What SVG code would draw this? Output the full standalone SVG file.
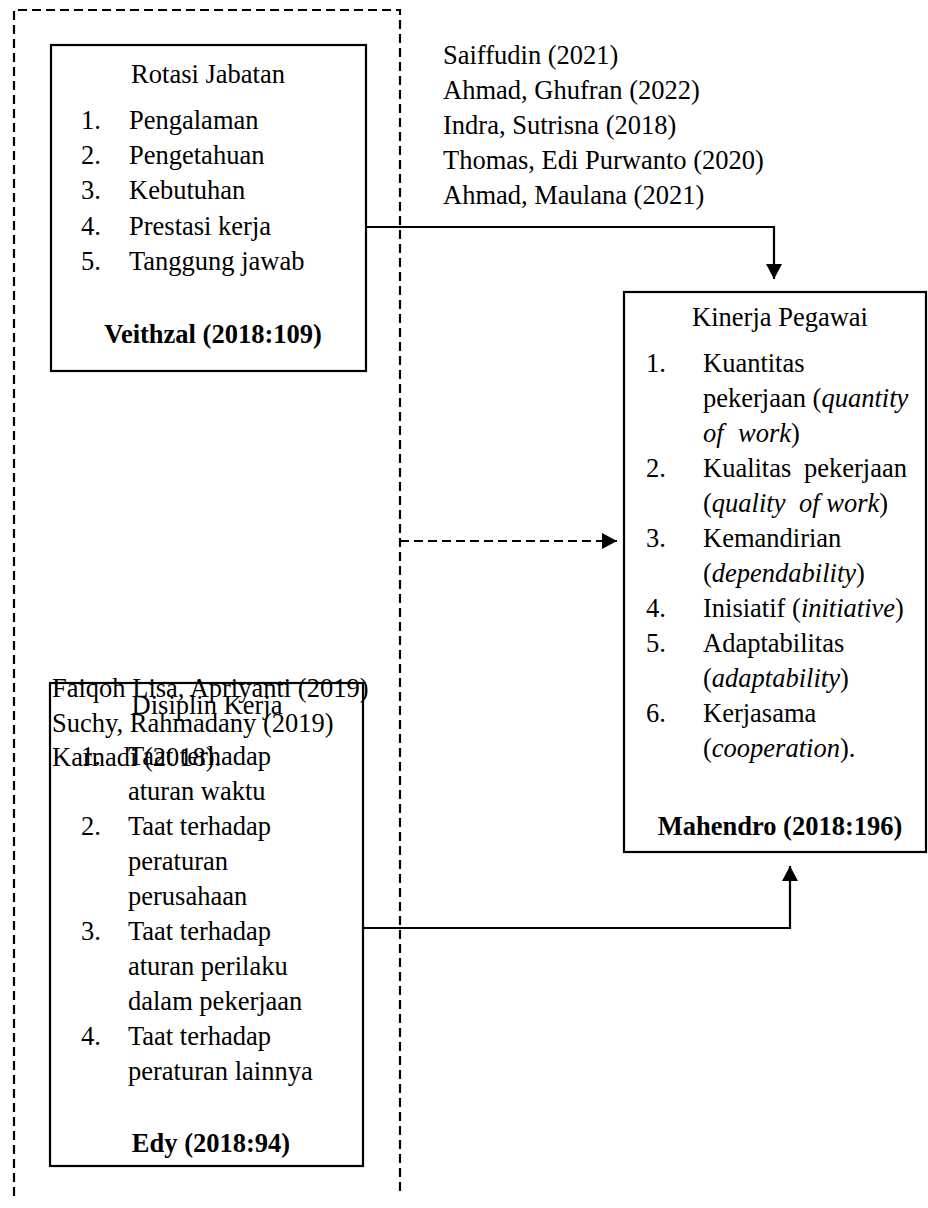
<svg xmlns="http://www.w3.org/2000/svg" width="928" height="1208" viewBox="0 0 928 1208">
<defs>
<marker id="ah" markerUnits="userSpaceOnUse" markerWidth="16" markerHeight="16" refX="15" refY="8" orient="auto">
<path d="M0,0 L15,8 L0,16 Z" fill="#000"/>
</marker>
<style>
text{font-family:"Liberation Serif","Times New Roman","DejaVu Serif",serif;font-size:26.5px;fill:#000}
.b{font-weight:bold}
.c{text-anchor:middle}
.i{font-style:italic}
.box{fill:#fff;stroke:#000;stroke-width:2.2}
.ln{fill:none;stroke:#000;stroke-width:2.2}
.dash{fill:none;stroke:#000;stroke-width:2.2;stroke-dasharray:9 5}
</style>
</defs>
<rect width="928" height="1208" fill="#fff"/>
<g id="frame">
<path class="dash" d="M14,1196 V10 H400 V1196"/>
</g>
<g id="rotasi">
<rect class="box" x="51" y="45" width="315" height="326"/>
<text class="c" x="208" y="83">Rotasi Jabatan</text>
<text x="81" y="129">1.</text><text x="129" y="129">Pengalaman</text>
<text x="81" y="164">2.</text><text x="129" y="164">Pengetahuan</text>
<text x="81" y="199">3.</text><text x="129" y="199">Kebutuhan</text>
<text x="81" y="235">4.</text><text x="129" y="235">Prestasi kerja</text>
<text x="81" y="270">5.</text><text x="129" y="270">Tanggung jawab</text>
<text class="b c" x="213" y="343">Veithzal (2018:109)</text>
</g>
<g id="refs1">
<text x="443" y="64">Saiffudin (2021)</text>
<text x="443" y="99">Ahmad, Ghufran (2022)</text>
<text x="443" y="134">Indra, Sutrisna (2018)</text>
<text x="443" y="169">Thomas, Edi Purwanto (2020)</text>
<text x="443" y="204">Ahmad, Maulana (2021)</text>
</g>
<g id="kinerja">
<rect class="box" x="624" y="292" width="302" height="560"/>
<text class="c" x="780" y="326">Kinerja Pegawai</text>
<text x="646" y="372">1.</text><text x="703" y="372">Kuantitas</text>
<text x="703" y="407">pekerjaan (<tspan class="i">quantity</tspan></text>
<text x="703" y="442"><tspan class="i">of</tspan><tspan x="738" class="i">work</tspan>)</text>
<text x="646" y="477">2.</text><text x="703" y="477">Kualitas</text><text x="804" y="477">pekerjaan</text>
<text x="703" y="512">(<tspan class="i">quality</tspan><tspan x="799" class="i">of work</tspan>)</text>
<text x="646" y="547">3.</text><text x="703" y="547">Kemandirian</text>
<text x="703" y="582">(<tspan class="i">dependability</tspan>)</text>
<text x="646" y="617">4.</text><text x="703" y="617">Inisiatif (<tspan class="i">initiative</tspan>)</text>
<text x="646" y="652">5.</text><text x="703" y="652">Adaptabilitas</text>
<text x="703" y="687">(<tspan class="i">adaptability</tspan>)</text>
<text x="646" y="722">6.</text><text x="703" y="722">Kerjasama</text>
<text x="703" y="757">(<tspan class="i">cooperation</tspan>).</text>
<text class="b c" x="780" y="835">Mahendro (2018:196)</text>
</g>
<g id="disiplin">
<rect class="box" x="50" y="683" width="313" height="483"/>
<text class="c" x="207" y="714">Disiplin Kerja</text>
<text x="81" y="765">1.</text><text x="128" y="765">Taat terhadap</text>
<text x="128" y="800">aturan waktu</text>
<text x="81" y="835">2.</text><text x="128" y="835">Taat terhadap</text>
<text x="128" y="870">peraturan</text>
<text x="128" y="905">perusahaan</text>
<text x="81" y="940">3.</text><text x="128" y="940">Taat terhadap</text>
<text x="128" y="975">aturan perilaku</text>
<text x="128" y="1010">dalam pekerjaan</text>
<text x="81" y="1045">4.</text><text x="128" y="1045">Taat terhadap</text>
<text x="128" y="1080">peraturan lainnya</text>
<text class="b c" x="211" y="1152">Edy (2018:94)</text>
</g>
<g id="refs2">
<text x="52" y="697">Faiqoh Lisa, Apriyanti (2019)</text>
<text x="52" y="732">Suchy, Rahmadany (2019)</text>
<text x="52" y="766">Karnadi (2018).</text>
</g>
<g id="connectors">
<path class="ln" d="M366,227 H774 V279" marker-end="url(#ah)"/>
<path class="dash" d="M400,541 H617" marker-end="url(#ah)"/>
<path class="ln" d="M363,928 H790 V866" marker-end="url(#ah)"/>
</g>
</svg>
